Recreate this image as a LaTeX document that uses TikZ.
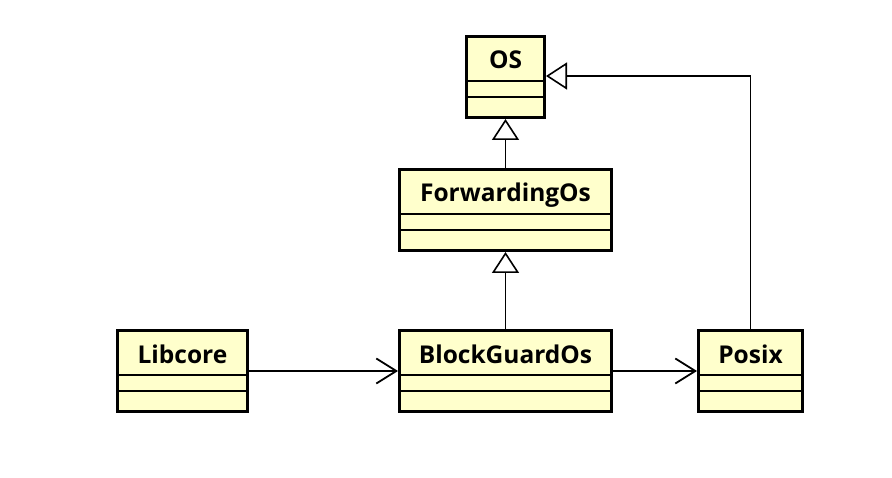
\documentclass[tikz,border=0pt]{standalone}
\usepackage{fontspec}
\usetikzlibrary{arrows.meta,calc}
\newfontfamily\umlfont{Open Sans}
\definecolor{classfill}{HTML}{FFFFCC}
\tikzset{
  umlclass/.style={draw=black, fill=classfill, line width=3pt, inner sep=0pt,
    minimum height=81pt, rectangle},
  umltitle/.style={anchor=base, inner sep=0pt, font=\umlfont\bfseries\fontsize{24.5}{28}\selectfont},
  sep/.style={line width=1.5pt},
  conn/.style={line width=1.5pt, black},
  inherit/.style={conn, -{Triangle[open, length=21pt, width=27pt, line width=1.6pt]}},
  assoc/.style={conn, -{Straight Barb[length=20pt, width=25pt, line width=1.8pt]}},
}
\newcommand{\umlbox}[4]{% name, center x, center y, width
  \node[umlclass, minimum width=#4] (#1) at (#2,#3) {};
  \draw[sep] ($(#1.north west)+(1.5pt,-46pt)$) -- ($(#1.north east)+(-1.5pt,-46pt)$);
  \draw[sep] ($(#1.north west)+(1.5pt,-62pt)$) -- ($(#1.north east)+(-1.5pt,-62pt)$);
}
\begin{document}
\begin{tikzpicture}[x=1pt,y=-1pt]
\useasboundingbox (0,0) rectangle (892,478);
\umlbox{os}{505.5}{77}{78pt}
\umlbox{fwd}{505.5}{210}{212pt}
\umlbox{lib}{182.5}{371}{130pt}
\umlbox{bg}{505.5}{371}{212pt}
\umlbox{posix}{750.5}{371}{104pt}
\node[umltitle] (ost) at ($(os.north)+(0,-34pt)$) {OS};
\node[umltitle] (fwdt) at ($(fwd.north)+(0,-34pt)$) {ForwardingOs};
\node[umltitle] (libt) at ($(lib.north)+(0,-34pt)$) {Libcore};
\node[umltitle] (bgt) at ($(bg.north)+(0,-34pt)$) {BlockGuardOs};
\node[umltitle] (posixt) at ($(posix.north)+(0,-34pt)$) {Posix};
\coordinate (bend) at (750.5,76);
\draw[inherit] (fwd.north) -- (os.south);
\draw[inherit] (bg.north) -- (fwd.south);
\draw[inherit] (posix.north) -- (bend) -- (os.east |- bend);
\draw[assoc] (lib.east) -- (bg.west);
\draw[assoc] (bg.east) -- (posix.west);
\end{tikzpicture}
\end{document}
